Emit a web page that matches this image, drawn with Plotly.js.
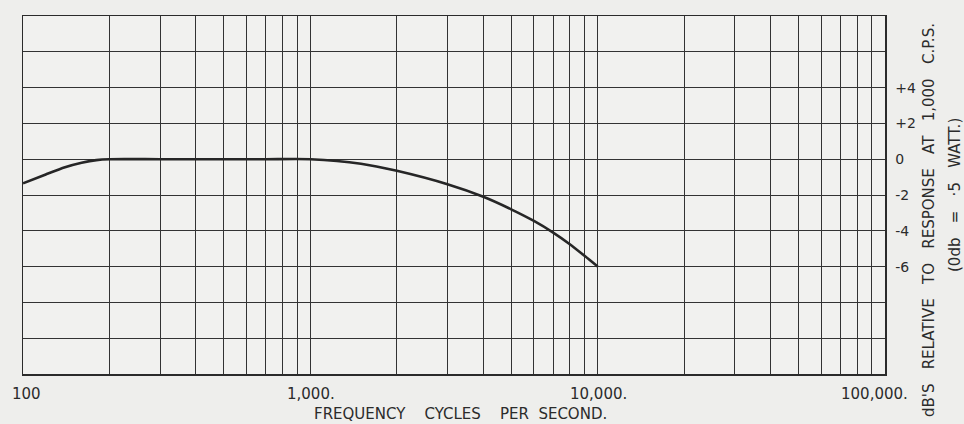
<!DOCTYPE html>
<html>
<head>
<meta charset="utf-8">
<script src="https://cdn.plot.ly/plotly-3.0.1.min.js"></script>
<style>
html,body{margin:0;padding:0;background:#eeeeec;}
#chart{width:964px;height:424px;}
</style>
</head>
<body>
<div id="chart"></div>
<script>
// Response curve
const freqHz = [100, 120, 140, 160, 180, 200, 300, 500, 700, 1000, 1500, 2000, 3000, 4000, 5000, 6000, 7000, 8000, 9000, 10000];
const responseDb = [-1.35, -0.85, -0.45, -0.2, -0.05, 0, 0, 0, 0, 0, -0.25, -0.65, -1.4, -2.1, -2.8, -3.45, -4.1, -4.75, -5.4, -6.0];

// X grid (log paper) and labels
const xGridVals = [100,200,300,400,500,600,700,800,900,
                   1000,2000,3000,4000,5000,6000,7000,8000,9000,
                   10000,20000,30000,40000,50000,60000,70000,80000,90000,100000];
const xLabelVals = [100, 1000, 10000, 100000];
const xLabelText = ['100', '1,000.', '10,000.', '100,000.'];

// Y grid and labels
const yGridVals = [-12,-10,-8,-6,-4,-2,0,2,4,6,8];
const yLabelText = ['','','','-6','-4','-2','0','+2','+4','',''];

const sp = '&nbsp;';
const xTitle = 'FREQUENCY' + sp.repeat(4) + 'CYCLES' + sp.repeat(4) + 'PER' + sp.repeat(2) + 'SECOND.';
const yTitle1 = ["dB'S", 'RELATIVE', 'TO', 'RESPONSE', 'AT', '1,000', 'C.P.S.'].join(sp.repeat(3));
const yTitle2 = ['(0db', '=', '·5', 'WATT.)'].join(sp.repeat(3));

const ink = '#2b2b2b';
const font = 'DejaVu Sans, sans-serif';
const xLabelShift = [3, 1, 1, -11];

const annotations = xLabelVals.map((v, i) => ({
  x: Math.log10(v), xref: 'x', y: 0, yref: 'paper',
  yanchor: 'top', xanchor: 'center', yshift: -9, xshift: xLabelShift[i],
  text: xLabelText[i], showarrow: false,
  font: {family: font, size: 15, color: ink}
}));
annotations.push({
  x: 0.5, xref: 'paper', y: 0, yref: 'paper', yanchor: 'top', xanchor: 'center',
  yshift: -29, xshift: 6, text: xTitle, showarrow: false,
  font: {family: font, size: 15, color: ink}
});
annotations.push({
  x: 1, xref: 'paper', y: 0.43, yref: 'paper', xanchor: 'center', yanchor: 'middle',
  xshift: 44, text: yTitle1, textangle: -90, showarrow: false,
  font: {family: font, size: 15, color: ink}
});
annotations.push({
  x: 1, xref: 'paper', y: 0.5, yref: 'paper', xanchor: 'center', yanchor: 'middle',
  xshift: 70, text: yTitle2, textangle: -90, showarrow: false,
  font: {family: font, size: 15, color: ink}
});

const trace = {
  x: freqHz, y: responseDb, type: 'scatter', mode: 'lines',
  line: {color: '#262626', width: 2.6, shape: 'spline', smoothing: 0.7},
  hoverinfo: 'skip', showlegend: false
};

const layout = {
  width: 964, height: 424,
  margin: {l: 23, r: 79, t: 16, b: 50},
  paper_bgcolor: '#eeeeec', plot_bgcolor: '#f1f1ef',
  showlegend: false,
  xaxis: {
    type: 'log', range: [2, 5],
    tickmode: 'array', tickvals: xGridVals, showticklabels: false,
    showgrid: true, gridcolor: '#333333', gridwidth: 1,
    showline: true, linecolor: ink, linewidth: 1.5, mirror: true,
    ticks: '', zeroline: false, fixedrange: true
  },
  yaxis: {
    side: 'right', range: [-12, 8],
    tickmode: 'array', tickvals: yGridVals, ticktext: yLabelText,
    showgrid: true, gridcolor: '#333333', gridwidth: 1,
    showline: true, linecolor: ink, linewidth: 1.5, mirror: true,
    ticks: '', ticklabelstandoff: 6, zeroline: false, fixedrange: true,
    tickfont: {family: font, size: 14, color: ink}
  },
  annotations: annotations
};

Plotly.newPlot('chart', [trace], layout, {displayModeBar: false, staticPlot: true});
</script>
</body>
</html>
